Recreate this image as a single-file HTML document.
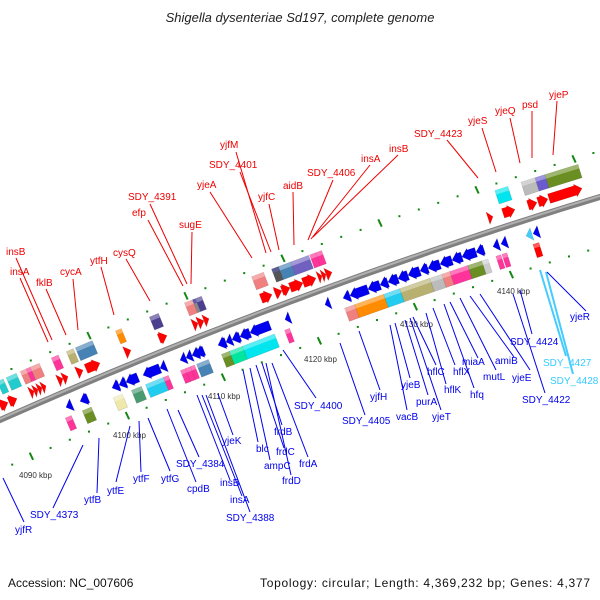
<!DOCTYPE html>
<html><head><meta charset="utf-8">
<style>
html,body{margin:0;padding:0;background:#fff;}
svg{display:block;font-family:"Liberation Sans",sans-serif;}
.r{fill:#ee0000;font-size:10px;}
.b{fill:#0000ee;font-size:10px;}
.c{fill:#33ccff;font-size:10px;}
.rl{stroke:#ee0000;stroke-width:1;}
.bl{stroke:#0000ee;stroke-width:1;}
.cl{stroke:#44ccff;stroke-width:2;}
.tk{fill:#333;font-size:8px;}
</style></head>
<body>
<svg id="map" width="600" height="600" viewBox="0 0 600 600">
<text x="300" y="22" text-anchor="middle" font-size="13" font-style="italic" fill="#222">Shigella dysenteriae Sd197, complete genome</text>
<g id="dots"></g>
<g id="backbone"></g>
<g id="genes"></g>
<g class="tk">
<text x="19" y="478">4090 kbp</text><text x="113" y="438">4100 kbp</text><text x="208" y="399">4110 kbp</text>
<text x="304" y="362">4120 kbp</text><text x="400" y="327">4130 kbp</text><text x="497" y="294">4140 kbp</text>
</g>
<g>
<line class="rl" x1="16" y1="258" x2="52" y2="340"/><text class="r" x="6" y="255">insB</text>
<line class="rl" x1="20" y1="278" x2="48" y2="342"/><text class="r" x="10" y="275">insA</text>
<line class="rl" x1="46" y1="289" x2="66" y2="335"/><text class="r" x="36" y="286">fklB</text>
<line class="rl" x1="73" y1="279" x2="78" y2="330"/><text class="r" x="60" y="275">cycA</text>
<line class="rl" x1="101" y1="267" x2="114" y2="315"/><text class="r" x="90" y="264">ytfH</text>
<line class="rl" x1="126" y1="259" x2="150" y2="301"/><text class="r" x="113" y="256">cysQ</text>
<line class="rl" x1="148" y1="220" x2="183" y2="286"/><text class="r" x="132" y="216">efp</text>
<line class="rl" x1="150" y1="204" x2="187" y2="284"/><text class="r" x="128" y="200">SDY_4391</text>
<line class="rl" x1="192" y1="232" x2="191" y2="284"/><text class="r" x="179" y="228">sugE</text>
<line class="rl" x1="210" y1="192" x2="252" y2="258"/><text class="r" x="197" y="188">yjeA</text>
<line class="rl" x1="236" y1="152" x2="266" y2="253"/><text class="r" x="220" y="148">yjfM</text>
<line class="rl" x1="240" y1="172" x2="271" y2="252"/><text class="r" x="209" y="168">SDY_4401</text>
<line class="rl" x1="269" y1="204" x2="279" y2="250"/><text class="r" x="258" y="200">yjfC</text>
<line class="rl" x1="293" y1="192" x2="294" y2="245"/><text class="r" x="283" y="189">aidB</text>
<line class="rl" x1="333" y1="180" x2="308" y2="240"/><text class="r" x="307" y="176">SDY_4406</text>
<line class="rl" x1="370" y1="165" x2="311" y2="239"/><text class="r" x="361" y="162">insA</text>
<line class="rl" x1="398" y1="155" x2="313" y2="237"/><text class="r" x="389" y="152">insB</text>
<line class="rl" x1="447" y1="140" x2="478" y2="178"/><text class="r" x="414" y="137">SDY_4423</text>
<line class="rl" x1="482" y1="128" x2="496" y2="172"/><text class="r" x="468" y="124">yjeS</text>
<line class="rl" x1="510" y1="118" x2="520" y2="163"/><text class="r" x="495" y="114">yjeQ</text>
<line class="rl" x1="532" y1="111" x2="532" y2="158"/><text class="r" x="522" y="108">psd</text>
<line class="rl" x1="557" y1="101" x2="553" y2="155"/><text class="r" x="549" y="98">yjeP</text>
</g>
<g>
<line class="bl" x1="3" y1="478" x2="24" y2="522"/><text class="b" x="15" y="533">yjfR</text>
<line class="bl" x1="83" y1="445" x2="53" y2="508"/><text class="b" x="30" y="518">SDY_4373</text>
<line class="bl" x1="99" y1="438" x2="97" y2="493"/><text class="b" x="84" y="503">ytfB</text>
<line class="bl" x1="130" y1="426" x2="116" y2="482"/><text class="b" x="107" y="494">ytfE</text>
<line class="bl" x1="139" y1="421" x2="141" y2="472"/><text class="b" x="133" y="482">ytfF</text>
<line class="bl" x1="148" y1="418" x2="170" y2="471"/><text class="b" x="161" y="482">ytfG</text>
<line class="bl" x1="178" y1="410" x2="199" y2="457"/><text class="b" x="176" y="467">SDY_4384</text>
<line class="bl" x1="167" y1="409" x2="196" y2="482"/><text class="b" x="187" y="492">cpdB</text>
<line class="bl" x1="218" y1="394" x2="233" y2="435"/><text class="b" x="222" y="444">yjeK</text>
<line class="bl" x1="197" y1="395" x2="230" y2="480"/><text class="b" x="220" y="486">insB</text>
<line class="bl" x1="202" y1="395" x2="242" y2="496"/><text class="b" x="230" y="503">insA</text>
<line class="bl" x1="206" y1="395" x2="250" y2="512"/><text class="b" x="226" y="521">SDY_4388</text>
<line class="bl" x1="243" y1="370" x2="258" y2="442"/><text class="b" x="256" y="452">blc</text>
<line class="bl" x1="250" y1="368" x2="270" y2="460"/><text class="b" x="264" y="469">ampC</text>
<line class="bl" x1="256" y1="365" x2="284" y2="448"/><text class="b" x="276" y="455">frdC</text>
<line class="bl" x1="262" y1="363" x2="282" y2="425"/><text class="b" x="274" y="435">frdB</text>
<line class="bl" x1="266" y1="363" x2="291" y2="475"/><text class="b" x="282" y="484">frdD</text>
<line class="bl" x1="272" y1="363" x2="308" y2="457"/><text class="b" x="299" y="467">frdA</text>
<line class="bl" x1="283" y1="350" x2="316" y2="398"/><text class="b" x="294" y="409">SDY_4400</text>
<line class="bl" x1="340" y1="343" x2="365" y2="415"/><text class="b" x="342" y="424">SDY_4405</text>
<line class="bl" x1="359" y1="331" x2="380" y2="390"/><text class="b" x="370" y="400">yjfH</text>
<line class="bl" x1="390" y1="325" x2="407" y2="410"/><text class="b" x="396" y="420">vacB</text>
<line class="bl" x1="395" y1="323" x2="410" y2="378"/><text class="b" x="401" y="388">yjeB</text>
<line class="bl" x1="405" y1="320" x2="428" y2="395"/><text class="b" x="416" y="405">purA</text>
<line class="bl" x1="410" y1="318" x2="441" y2="410"/><text class="b" x="432" y="420">yjeT</text>
<line class="bl" x1="413" y1="317" x2="436" y2="365"/><text class="b" x="427" y="375">hflC</text>
<line class="bl" x1="426" y1="313" x2="446" y2="384"/><text class="b" x="444" y="393">hflK</text>
<line class="bl" x1="433" y1="308" x2="455" y2="365"/><text class="b" x="453" y="375">hflX</text>
<line class="bl" x1="444" y1="304" x2="474" y2="388"/><text class="b" x="470" y="398">hfq</text>
<line class="bl" x1="450" y1="302" x2="478" y2="358"/><text class="b" x="462" y="365">miaA</text>
<line class="bl" x1="460" y1="298" x2="496" y2="370"/><text class="b" x="483" y="380">mutL</text>
<line class="bl" x1="470" y1="296" x2="514" y2="357"/><text class="b" x="495" y="364">amiB</text>
<line class="bl" x1="480" y1="294" x2="530" y2="370"/><text class="b" x="512" y="381">yjeE</text>
<line class="bl" x1="520" y1="290" x2="532" y2="334"/><text class="b" x="510" y="345">SDY_4424</text>
<line class="bl" x1="513" y1="294" x2="545" y2="393"/><text class="b" x="522" y="403">SDY_4422</text>
<line class="cl" x1="540" y1="270" x2="566" y2="356"/><text class="c" x="543" y="366">SDY_4427</text>
<line class="cl" x1="546" y1="272" x2="573" y2="374"/><text class="c" x="550" y="384">SDY_4428</text>
<line class="bl" x1="547" y1="272" x2="586" y2="311"/><text class="b" x="570" y="320">yjeR</text>
</g>
<text x="8" y="587" font-size="12" fill="#111">Accession: NC_007606</text>
<text x="260" y="587" font-size="12" fill="#111" textLength="330">Topology: circular; Length: 4,369,232 bp; Genes: 4,377</text>
</svg>
<script>
// gene data: start x, end x along backbone, lane, color
const fwdArrowStart=[0,9,30,34,38,42,58,63,77,86,125,159,193,198,204,261,275,282,290,303,318,322,326,488,503,528,538,549];
const fwdArrowEnd  =[8,17,34,38,42,46,63,68,83,100,131,167,198,204,209,272,282,290,303,316,322,326,332,493,515,537,548,582];
const fwdBoxStart=[0,9,23,29,33,54,69,78,118,152,187,195,198,254,274,281,293,312,318,497,523,537,547];
const fwdBoxEnd  =[6,19,29,33,42,61,76,95,124,161,195,198,204,266,281,293,311,318,324,510,537,547,580];
const fwdBoxColor=['#22cccc','#22cccc','#f08080','#ff3399','#f08080','#ff3399','#b8b070','#4682b4','#ff8c00','#4b3f8f','#f08080','#888','#4b3f8f','#f08080','#555','#4682b4','#7060c0','#ff3399','#ff3399','#00e5ee','#bbbbbb','#6a5acd','#6b8e23'];
const revArrowStart=[66,80,112,119,126,143,160,180,186,192,196,218,226,232,240,250,285,325,343,350,368,380,388,398,408,420,428,440,452,462,476,493,501,526,533];
const revArrowEnd  =[72,88,119,126,138,160,166,186,192,199,204,226,232,240,250,270,290,330,350,368,380,388,398,408,420,428,440,452,462,476,484,499,507,532,539];
const revArrowColor=revArrowStart.map((s,i)=>i===33?'#44ccff':'#0000ee');
const revBoxStart=[68,85,116,134,148,166,183,188,193,199,224,232,245,287,347,357,386,402,432,444,452,470,484,498,504,535];
const revBoxEnd  =[74,94,125,144,166,171,188,193,197,211,232,245,277,292,357,386,402,432,444,452,470,484,490,503,509,541];
const revBoxColor=['#ff3399','#6b8e23','#eee8aa','#4a9a70','#22ccee','#ff3399','#ff3399','#ff3399','#ff3399','#4682b4','#6b8e23','#00e5a0','#00e5ee','#ff3399','#f08080','#ff8c00','#22ccee','#b8b070','#bbbbbb','#f08080','#ff3399','#6b8e23','#cccccc','#ff3399','#ff3399','#ff0000'];
const upperTicks=[]; for(let x=-8;x<=600;x+=19.4) upperTicks.push(x);
const lowerTicks=[]; for(let x=-7;x<=600;x+=19.2) lowerTicks.push(x);

const NS='http://www.w3.org/2000/svg';
const yb=x=>420-0.4417*x+0.0001167*x*x;
const ang=x=>Math.atan(-0.4417+2*0.0001167*x);
function mk(tag,attrs,parent){const e=document.createElementNS(NS,tag);for(const k in attrs)e.setAttribute(k,attrs[k]);parent.appendChild(e);return e;}

const bb=document.getElementById('backbone');
let d='';for(let x=-10;x<=610;x+=10){d+=(x===-10?'M':'L')+x+','+yb(x).toFixed(1);}
mk('path',{d:d,fill:'none',stroke:'#808080','stroke-width':6},bb);
mk('path',{d:d,fill:'none',stroke:'#b0b0b0','stroke-width':2,transform:'translate(0,-1)'},bb);

const dots=document.getElementById('dots');
function tickRow(arr,off,phase){arr.forEach((x,i)=>{const cx=x,cy=yb(x)+off;const major=(i%5)===phase;
 const t=mk('rect',{x:cx-1,y:cy-(major?4:1),width:2,height:major?8:2,fill:'#118811',transform:'rotate('+(major?-25:0)+' '+cx+' '+cy+')'},dots);
 
 });}
tickRow(upperTicks,-46,0);
tickRow(lowerTicks,50,2);

const g=document.getElementById('genes');
function lighten(c){const n=parseInt(c.slice(1),16);let r=n>>16,gg=(n>>8)&255,b=n&255;r=Math.round(r+(255-r)*0.35);gg=Math.round(gg+(255-gg)*0.35);b=Math.round(b+(255-b)*0.35);return 'rgb('+r+','+gg+','+b+')';}
function gene(x1,x2,off,h,color,kind){
 const xm=(x1+x2)/2,cy=yb(xm)+off,a=ang(xm),L=(x2-x1)/Math.cos(a);
 const grp=mk('g',{transform:'translate('+xm+','+cy+') rotate('+(a*180/Math.PI)+')'},g);
 
 
 const hl=L/2,hh=h/2;let pts;
 if(kind==='box'){pts=[[-hl,-hh],[hl,-hh],[hl,hh],[-hl,hh]];}
 else{const head=Math.min(L,7);const s=kind==='fwd'?1:-1;
  if(L<=7){pts=[[-hl*s,-hh],[hl*s,0],[-hl*s,hh]];}
  else pts=[[-hl*s,-hh*0.75],[(hl-head)*s,-hh*0.75],[(hl-head)*s,-hh],[hl*s,0],[(hl-head)*s,hh],[(hl-head)*s,hh*0.75],[-hl*s,hh*0.75]];}
 mk('polygon',{points:pts.map(p=>p[0].toFixed(1)+','+p[1].toFixed(1)).join(' '),fill:color,stroke:'rgba(0,0,0,0.15)','stroke-width':0.6},grp);
 if(kind==='box')mk('rect',{x:-hl,y:-hh,width:L,height:h*0.3,fill:lighten(color)},grp);
}
fwdBoxStart.forEach((s,i)=>gene(s,fwdBoxEnd[i],-32,14,fwdBoxColor[i],'box'));
fwdArrowStart.forEach((s,i)=>gene(s,fwdArrowEnd[i],-14,13,'#ff0000','fwd'));
revArrowStart.forEach((s,i)=>gene(s,revArrowEnd[i],16,13,revArrowColor[i],'rev'));
revBoxStart.forEach((s,i)=>gene(s,revBoxEnd[i],34,14,revBoxColor[i],'box'));
</script>
</body></html>
